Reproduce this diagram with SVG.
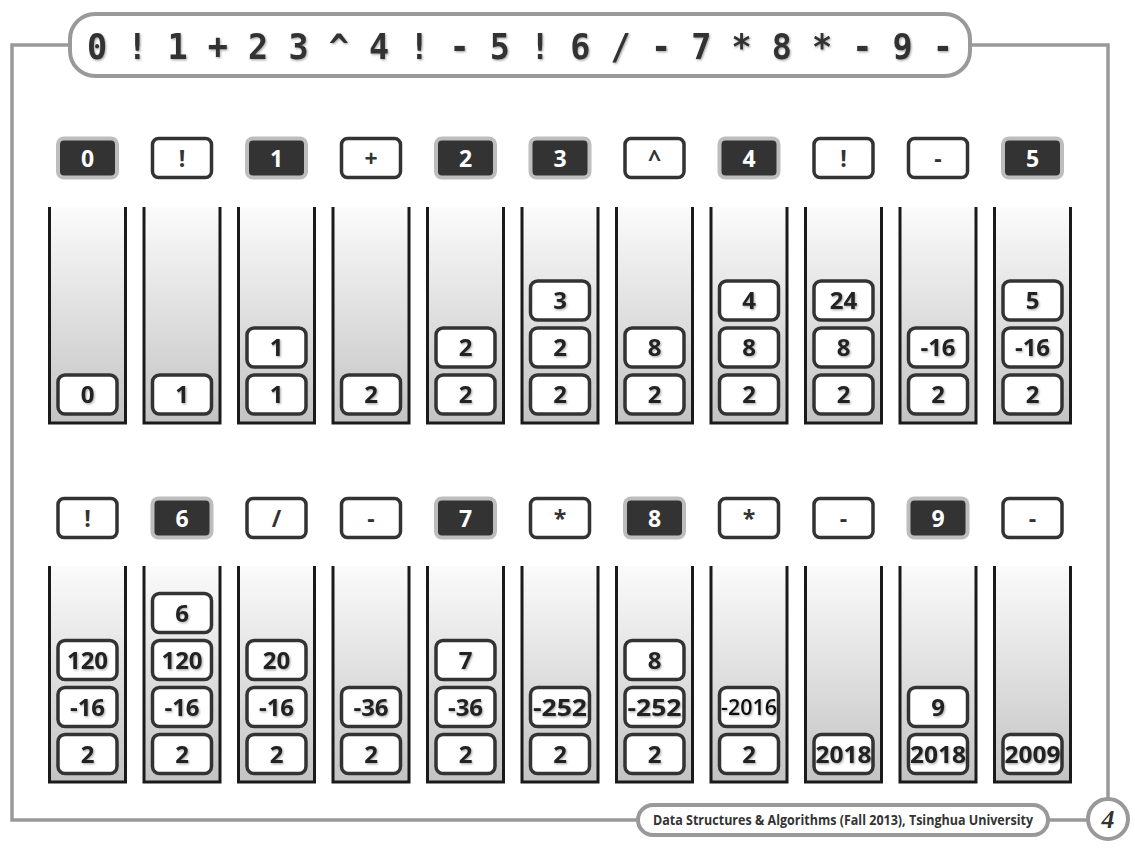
<svg xmlns="http://www.w3.org/2000/svg" width="1135" height="851" viewBox="0 0 1135 851">
<defs>
<linearGradient id="tube" x1="0" y1="0" x2="0" y2="1">
<stop offset="0" stop-color="#fbfbfb"/>
<stop offset="1" stop-color="#c3c3c3"/>
</linearGradient>
<filter id="sh" x="-20%" y="-20%" width="140%" height="140%">
<feDropShadow dx="1" dy="1.2" stdDeviation="0.8" flood-color="#000" flood-opacity="0.35"/>
</filter>
</defs>
<style>
.frame{fill:none;stroke:#999;stroke-width:3.5}
.tbox{fill:#fff;stroke:#999;stroke-width:4}
.title{font-family:"DejaVu Sans Mono","Liberation Mono",monospace;font-weight:bold;font-size:36px;fill:#333}
.foot{font-family:"Open Sans","Liberation Sans",sans-serif;font-weight:bold;font-size:14px;fill:#333}
.pg{font-family:"Liberation Serif",serif;font-style:italic;font-weight:bold;font-size:26px;fill:#333}
.tube{fill:url(#tube);stroke:#1a1a1a;stroke-width:3}
.item{fill:#fff;stroke:#333;stroke-width:3.5}
.dk{fill:#333;stroke:#bdbdbd;stroke-width:4}
.wt{fill:#fff;stroke:#333;stroke-width:3.5}
.it,.lw,.lk{font-family:"Open Sans","Liberation Sans",sans-serif;font-weight:bold;font-size:24px;text-anchor:middle}
.lw,.lk{font-size:23px}
.it{fill:#222}
.lw{fill:#fff}
.lk{fill:#333}
</style>

<g id="connectors">
<path class="frame" d="M70 45 H12 V820 H638"/>
<path class="frame" d="M970 45 H1108 V799"/>
<path class="frame" d="M1048 820 H1088"/>
</g>

<g id="title">
<rect class="tbox" x="70" y="14" width="900" height="62" rx="25"/>
<text class="title" x="87" y="59" textLength="866" lengthAdjust="spacingAndGlyphs" filter="url(#sh)" xml:space="preserve">0 ! 1 + 2 3 ^ 4 ! - 5 ! 6 / - 7 * 8 * - 9 -</text>
</g>

<g id="footer">
<rect class="tbox" x="638" y="805" width="410" height="30" rx="15"/>
<text class="foot" x="653" y="825" textLength="380" lengthAdjust="spacingAndGlyphs">Data Structures &amp; Algorithms (Fall 2013), Tsinghua University</text>
</g>
<g id="page">
<circle class="tbox" cx="1108" cy="819" r="20"/>
<text class="pg" x="1108" y="828" text-anchor="middle">4</text>
</g>

<!-- Row 1 tokens -->
<g id="tok-r1-1"><rect class="dk" x="58" y="138.5" width="59" height="39" rx="6"/><text class="lw" x="87.5" y="166.5">0</text></g>
<g id="tok-r1-2"><rect class="wt" x="152.5" y="138.5" width="59" height="39" rx="6"/><text class="lk" x="182" y="166.5">!</text></g>
<g id="tok-r1-3"><rect class="dk" x="247" y="138.5" width="59" height="39" rx="6"/><text class="lw" x="276.5" y="166.5">1</text></g>
<g id="tok-r1-4"><rect class="wt" x="341.5" y="138.5" width="59" height="39" rx="6"/><text class="lk" x="371" y="166.5">+</text></g>
<g id="tok-r1-5"><rect class="dk" x="436" y="138.5" width="59" height="39" rx="6"/><text class="lw" x="465.5" y="166.5">2</text></g>
<g id="tok-r1-6"><rect class="dk" x="530.5" y="138.5" width="59" height="39" rx="6"/><text class="lw" x="560" y="166.5">3</text></g>
<g id="tok-r1-7"><rect class="wt" x="625" y="138.5" width="59" height="39" rx="6"/><text class="lk" x="654.5" y="166.5">^</text></g>
<g id="tok-r1-8"><rect class="dk" x="719.5" y="138.5" width="59" height="39" rx="6"/><text class="lw" x="749" y="166.5">4</text></g>
<g id="tok-r1-9"><rect class="wt" x="814" y="138.5" width="59" height="39" rx="6"/><text class="lk" x="843.5" y="166.5">!</text></g>
<g id="tok-r1-10"><rect class="wt" x="908.5" y="138.5" width="59" height="39" rx="6"/><text class="lk" x="938" y="166.5">-</text></g>
<g id="tok-r1-11"><rect class="dk" x="1003" y="138.5" width="59" height="39" rx="6"/><text class="lw" x="1032.5" y="166.5">5</text></g>

<!-- Row 1 stacks -->
<g id="stack-r1-1"><path class="tube" d="M49.5 207 V423 H125.5 V207"/>
<rect class="item" x="58" y="375" width="59" height="39" rx="7"/><text class="it" x="87.5" y="403" filter="url(#sh)">0</text></g>
<g id="stack-r1-2"><path class="tube" d="M144 207 V423 H220 V207"/>
<rect class="item" x="152.5" y="375" width="59" height="39" rx="7"/><text class="it" x="182" y="403" filter="url(#sh)">1</text></g>
<g id="stack-r1-3"><path class="tube" d="M238.5 207 V423 H314.5 V207"/>
<rect class="item" x="247" y="375" width="59" height="39" rx="7"/><text class="it" x="276.5" y="403" filter="url(#sh)">1</text>
<rect class="item" x="247" y="328" width="59" height="39" rx="7"/><text class="it" x="276.5" y="356" filter="url(#sh)">1</text></g>
<g id="stack-r1-4"><path class="tube" d="M333 207 V423 H409 V207"/>
<rect class="item" x="341.5" y="375" width="59" height="39" rx="7"/><text class="it" x="371" y="403" filter="url(#sh)">2</text></g>
<g id="stack-r1-5"><path class="tube" d="M427.5 207 V423 H503.5 V207"/>
<rect class="item" x="436" y="375" width="59" height="39" rx="7"/><text class="it" x="465.5" y="403" filter="url(#sh)">2</text>
<rect class="item" x="436" y="328" width="59" height="39" rx="7"/><text class="it" x="465.5" y="356" filter="url(#sh)">2</text></g>
<g id="stack-r1-6"><path class="tube" d="M522 207 V423 H598 V207"/>
<rect class="item" x="530.5" y="375" width="59" height="39" rx="7"/><text class="it" x="560" y="403" filter="url(#sh)">2</text>
<rect class="item" x="530.5" y="328" width="59" height="39" rx="7"/><text class="it" x="560" y="356" filter="url(#sh)">2</text>
<rect class="item" x="530.5" y="281" width="59" height="39" rx="7"/><text class="it" x="560" y="309" filter="url(#sh)">3</text></g>
<g id="stack-r1-7"><path class="tube" d="M616.5 207 V423 H692.5 V207"/>
<rect class="item" x="625" y="375" width="59" height="39" rx="7"/><text class="it" x="654.5" y="403" filter="url(#sh)">2</text>
<rect class="item" x="625" y="328" width="59" height="39" rx="7"/><text class="it" x="654.5" y="356" filter="url(#sh)">8</text></g>
<g id="stack-r1-8"><path class="tube" d="M711 207 V423 H787 V207"/>
<rect class="item" x="719.5" y="375" width="59" height="39" rx="7"/><text class="it" x="749" y="403" filter="url(#sh)">2</text>
<rect class="item" x="719.5" y="328" width="59" height="39" rx="7"/><text class="it" x="749" y="356" filter="url(#sh)">8</text>
<rect class="item" x="719.5" y="281" width="59" height="39" rx="7"/><text class="it" x="749" y="309" filter="url(#sh)">4</text></g>
<g id="stack-r1-9"><path class="tube" d="M805.5 207 V423 H881.5 V207"/>
<rect class="item" x="814" y="375" width="59" height="39" rx="7"/><text class="it" x="843.5" y="403" filter="url(#sh)">2</text>
<rect class="item" x="814" y="328" width="59" height="39" rx="7"/><text class="it" x="843.5" y="356" filter="url(#sh)">8</text>
<rect class="item" x="814" y="281" width="59" height="39" rx="7"/><text class="it" x="843.5" y="309" filter="url(#sh)">24</text></g>
<g id="stack-r1-10"><path class="tube" d="M900 207 V423 H976 V207"/>
<rect class="item" x="908.5" y="375" width="59" height="39" rx="7"/><text class="it" x="938" y="403" filter="url(#sh)">2</text>
<rect class="item" x="908.5" y="328" width="59" height="39" rx="7"/><text class="it" x="938" y="356" filter="url(#sh)">-16</text></g>
<g id="stack-r1-11"><path class="tube" d="M994.5 207 V423 H1070.5 V207"/>
<rect class="item" x="1003" y="375" width="59" height="39" rx="7"/><text class="it" x="1032.5" y="403" filter="url(#sh)">2</text>
<rect class="item" x="1003" y="328" width="59" height="39" rx="7"/><text class="it" x="1032.5" y="356" filter="url(#sh)">-16</text>
<rect class="item" x="1003" y="281" width="59" height="39" rx="7"/><text class="it" x="1032.5" y="309" filter="url(#sh)">5</text></g>

<!-- Row 2 tokens -->
<g id="tok-r2-1"><rect class="wt" x="58" y="498.5" width="59" height="39" rx="6"/><text class="lk" x="87.5" y="526.5">!</text></g>
<g id="tok-r2-2"><rect class="dk" x="152.5" y="498.5" width="59" height="39" rx="6"/><text class="lw" x="182" y="526.5">6</text></g>
<g id="tok-r2-3"><rect class="wt" x="247" y="498.5" width="59" height="39" rx="6"/><text class="lk" x="276.5" y="526.5">/</text></g>
<g id="tok-r2-4"><rect class="wt" x="341.5" y="498.5" width="59" height="39" rx="6"/><text class="lk" x="371" y="526.5">-</text></g>
<g id="tok-r2-5"><rect class="dk" x="436" y="498.5" width="59" height="39" rx="6"/><text class="lw" x="465.5" y="526.5">7</text></g>
<g id="tok-r2-6"><rect class="wt" x="530.5" y="498.5" width="59" height="39" rx="6"/><text class="lk" x="560" y="526.5">*</text></g>
<g id="tok-r2-7"><rect class="dk" x="625" y="498.5" width="59" height="39" rx="6"/><text class="lw" x="654.5" y="526.5">8</text></g>
<g id="tok-r2-8"><rect class="wt" x="719.5" y="498.5" width="59" height="39" rx="6"/><text class="lk" x="749" y="526.5">*</text></g>
<g id="tok-r2-9"><rect class="wt" x="814" y="498.5" width="59" height="39" rx="6"/><text class="lk" x="843.5" y="526.5">-</text></g>
<g id="tok-r2-10"><rect class="dk" x="908.5" y="498.5" width="59" height="39" rx="6"/><text class="lw" x="938" y="526.5">9</text></g>
<g id="tok-r2-11"><rect class="wt" x="1003" y="498.5" width="59" height="39" rx="6"/><text class="lk" x="1032.5" y="526.5">-</text></g>

<!-- Row 2 stacks -->
<g id="stack-r2-1"><path class="tube" d="M49.5 566 V782 H125.5 V566"/>
<rect class="item" x="58" y="734.5" width="59" height="39" rx="7"/><text class="it" x="87.5" y="762.5" filter="url(#sh)">2</text>
<rect class="item" x="58" y="687.5" width="59" height="39" rx="7"/><text class="it" x="87.5" y="715.5" filter="url(#sh)">-16</text>
<rect class="item" x="58" y="640.5" width="59" height="39" rx="7"/><text class="it" x="87.5" y="668.5" filter="url(#sh)">120</text></g>
<g id="stack-r2-2"><path class="tube" d="M144 566 V782 H220 V566"/>
<rect class="item" x="152.5" y="734.5" width="59" height="39" rx="7"/><text class="it" x="182" y="762.5" filter="url(#sh)">2</text>
<rect class="item" x="152.5" y="687.5" width="59" height="39" rx="7"/><text class="it" x="182" y="715.5" filter="url(#sh)">-16</text>
<rect class="item" x="152.5" y="640.5" width="59" height="39" rx="7"/><text class="it" x="182" y="668.5" filter="url(#sh)">120</text>
<rect class="item" x="152.5" y="593.5" width="59" height="39" rx="7"/><text class="it" x="182" y="621.5" filter="url(#sh)">6</text></g>
<g id="stack-r2-3"><path class="tube" d="M238.5 566 V782 H314.5 V566"/>
<rect class="item" x="247" y="734.5" width="59" height="39" rx="7"/><text class="it" x="276.5" y="762.5" filter="url(#sh)">2</text>
<rect class="item" x="247" y="687.5" width="59" height="39" rx="7"/><text class="it" x="276.5" y="715.5" filter="url(#sh)">-16</text>
<rect class="item" x="247" y="640.5" width="59" height="39" rx="7"/><text class="it" x="276.5" y="668.5" filter="url(#sh)">20</text></g>
<g id="stack-r2-4"><path class="tube" d="M333 566 V782 H409 V566"/>
<rect class="item" x="341.5" y="734.5" width="59" height="39" rx="7"/><text class="it" x="371" y="762.5" filter="url(#sh)">2</text>
<rect class="item" x="341.5" y="687.5" width="59" height="39" rx="7"/><text class="it" x="371" y="715.5" filter="url(#sh)">-36</text></g>
<g id="stack-r2-5"><path class="tube" d="M427.5 566 V782 H503.5 V566"/>
<rect class="item" x="436" y="734.5" width="59" height="39" rx="7"/><text class="it" x="465.5" y="762.5" filter="url(#sh)">2</text>
<rect class="item" x="436" y="687.5" width="59" height="39" rx="7"/><text class="it" x="465.5" y="715.5" filter="url(#sh)">-36</text>
<rect class="item" x="436" y="640.5" width="59" height="39" rx="7"/><text class="it" x="465.5" y="668.5" filter="url(#sh)">7</text></g>
<g id="stack-r2-6"><path class="tube" d="M522 566 V782 H598 V566"/>
<rect class="item" x="530.5" y="734.5" width="59" height="39" rx="7"/><text class="it" x="560" y="762.5" filter="url(#sh)">2</text>
<rect class="item" x="530.5" y="687.5" width="59" height="39" rx="7"/><text class="it" x="560" y="715.5" textLength="54" lengthAdjust="spacingAndGlyphs" filter="url(#sh)">-252</text></g>
<g id="stack-r2-7"><path class="tube" d="M616.5 566 V782 H692.5 V566"/>
<rect class="item" x="625" y="734.5" width="59" height="39" rx="7"/><text class="it" x="654.5" y="762.5" filter="url(#sh)">2</text>
<rect class="item" x="625" y="687.5" width="59" height="39" rx="7"/><text class="it" x="654.5" y="715.5" textLength="54" lengthAdjust="spacingAndGlyphs" filter="url(#sh)">-252</text>
<rect class="item" x="625" y="640.5" width="59" height="39" rx="7"/><text class="it" x="654.5" y="668.5" filter="url(#sh)">8</text></g>
<g id="stack-r2-8"><path class="tube" d="M711 566 V782 H787 V566"/>
<rect class="item" x="719.5" y="734.5" width="59" height="39" rx="7"/><text class="it" x="749" y="762.5" filter="url(#sh)">2</text>
<rect class="item" x="719.5" y="687.5" width="59" height="39" rx="7"/><text class="it" x="749" y="714.5" style="font-size:21px;font-weight:600;fill:#111" textLength="56" lengthAdjust="spacingAndGlyphs" filter="url(#sh)">-2016</text></g>
<g id="stack-r2-9"><path class="tube" d="M805.5 566 V782 H881.5 V566"/>
<rect class="item" x="814" y="734.5" width="59" height="39" rx="7"/><text class="it" x="843.5" y="763" textLength="56" lengthAdjust="spacingAndGlyphs" filter="url(#sh)">2018</text></g>
<g id="stack-r2-10"><path class="tube" d="M900 566 V782 H976 V566"/>
<rect class="item" x="908.5" y="734.5" width="59" height="39" rx="7"/><text class="it" x="938" y="763" textLength="56" lengthAdjust="spacingAndGlyphs" filter="url(#sh)">2018</text>
<rect class="item" x="908.5" y="687.5" width="59" height="39" rx="7"/><text class="it" x="938" y="715.5" filter="url(#sh)">9</text></g>
<g id="stack-r2-11"><path class="tube" d="M994.5 566 V782 H1070.5 V566"/>
<rect class="item" x="1003" y="734.5" width="59" height="39" rx="7"/><text class="it" x="1032.5" y="763" textLength="56" lengthAdjust="spacingAndGlyphs" filter="url(#sh)">2009</text></g>
</svg>
